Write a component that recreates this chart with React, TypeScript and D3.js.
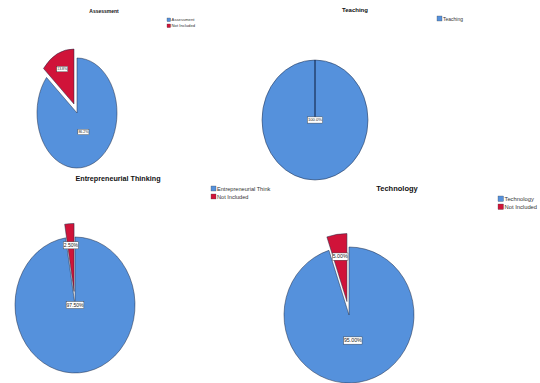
import React from "react";
import * as d3 from "d3";

const panelTitles = ["Assessment", "Teaching", "Entrepreneurial Thinking", "Technology"];
const assessmentValues = [86.2, 13.8];
const teachingValues = [100];
const entrepreneurialValues = [97.5, 2.5];
const technologyValues = [95, 5];
const assessmentLegend = ["Assessment", "Not Included"];
const teachingLegend = ["Teaching"];
const entrepreneurialLegend = ["Entrepreneurial Think", "Not Included"];
const technologyLegend = ["Technology", "Not Included"];
const labelDecimals = [1, 1, 2, 2];

const sliceColors = ["#5591dc", "#d01339"];

const panels = [
  { values: assessmentValues, legend: assessmentLegend, cx: 77, cy: 113, rx: 40, ry: 55, explode: 18,
    labelFrac: [0.38, 0.7], title: { x: 104, y: 13, size: 5 }, leg: { x: 167, y: 18, size: 4.2, box: 3.6, gap: 6 } },
  { values: teachingValues, legend: teachingLegend, cx: 315, cy: 120, rx: 53, ry: 60, explode: 0,
    labelFrac: [0], title: { x: 355, y: 12, size: 6 }, leg: { x: 437, y: 16, size: 5, box: 5, gap: 7 } },
  { values: entrepreneurialValues, legend: entrepreneurialLegend, cx: 75, cy: 305, rx: 60, ry: 68, explode: 20,
    labelFrac: [0, 0.68], title: { x: 118, y: 181, size: 7.2 }, leg: { x: 211, y: 186, size: 5.6, box: 5, gap: 8 } },
  { values: technologyValues, legend: technologyLegend, cx: 349, cy: 315, rx: 65, ry: 68, explode: 20,
    labelFrac: [0.38, 0.67], title: { x: 397, y: 191, size: 7.5 }, leg: { x: 498, y: 196, size: 5.8, box: 5.5, gap: 8 } },
];

const R = 100;

function PiePanel({ p, title, decimals }: any) {
  const pie = d3.pie<number>().sort(null).value((d) => d).startAngle(0).endAngle(2 * Math.PI);
  const arcs = pie(p.values);
  const arc = d3.arc<d3.PieArcDatum<number>>().innerRadius(0).outerRadius(R);
  const sx = p.rx / R;
  const sy = p.ry / R;
  const fmt = d3.format(`.${decimals}f`);
  return (
    <g>
      <text x={p.title.x} y={p.title.y} textAnchor="middle" fontFamily="Liberation Sans, Arial, sans-serif"
        fontWeight="bold" fontSize={p.title.size} fill="#111">{title}</text>
      {p.legend.map((l: string, i: number) => (
        <g key={l} transform={`translate(${p.leg.x},${p.leg.y + i * p.leg.gap})`}>
          <rect width={p.leg.box} height={p.leg.box} fill={sliceColors[i]} stroke="#444" strokeWidth={0.3} />
          <text x={p.leg.box + 1} y={p.leg.box - 0.5} fontFamily="Liberation Sans, Arial, sans-serif"
            fontSize={p.leg.size} fill="#333">{l}</text>
        </g>
      ))}
      {arcs.map((a, i) => {
        const mid = (a.startAngle + a.endAngle) / 2;
        const ex = i > 0 ? p.explode : 0;
        const dx = Math.sin(mid) * ex * sx;
        const dy = -Math.cos(mid) * ex * sy;
        return (
          <g key={i} transform={`translate(${p.cx + dx},${p.cy + dy}) scale(${sx},${sy})`}>
            <path d={arc(a) || ""} fill={sliceColors[i]} stroke="#1e2a44" strokeWidth={0.5}
              vectorEffect="non-scaling-stroke" />
          </g>
        );
      })}
      {p.values.length === 1 && (
        <line x1={p.cx} y1={p.cy} x2={p.cx} y2={p.cy - p.ry} stroke="#0d1a3a" strokeWidth={1} />
      )}
      {arcs.map((a, i) => {
        const mid = (a.startAngle + a.endAngle) / 2;
        const ex = i > 0 ? p.explode : 0;
        const rr = p.labelFrac[i] * R + ex;
        const lx = p.cx + Math.sin(mid) * rr * sx;
        const ly = p.cy - Math.cos(mid) * rr * sy;
        const txt = `${fmt(p.values[i])}%`;
        const fs = p.title.size * 0.7;
        const w = txt.length * fs * 0.52 + 2;
        const h = fs + 2;
        return (
          <g key={"l" + i}>
            <rect x={lx - w / 2} y={ly - h / 2} width={w} height={h} fill="#fff" stroke="#333" strokeWidth={0.4} />
            <text x={lx} y={ly + fs * 0.35} textAnchor="middle" fontFamily="Liberation Sans, Arial, sans-serif"
              fontSize={fs} fill="#222">{txt}</text>
          </g>
        );
      })}
    </g>
  );
}

export default function App() {
  return (
    <svg width={540} height={383} style={{ position: "absolute", left: 0, top: 0, background: "#fff" }}>
      <rect width={540} height={383} fill="#fff" />
      {panels.map((p, i) => (
        <PiePanel key={i} p={p} title={panelTitles[i]} decimals={labelDecimals[i]} />
      ))}
    </svg>
  );
}
